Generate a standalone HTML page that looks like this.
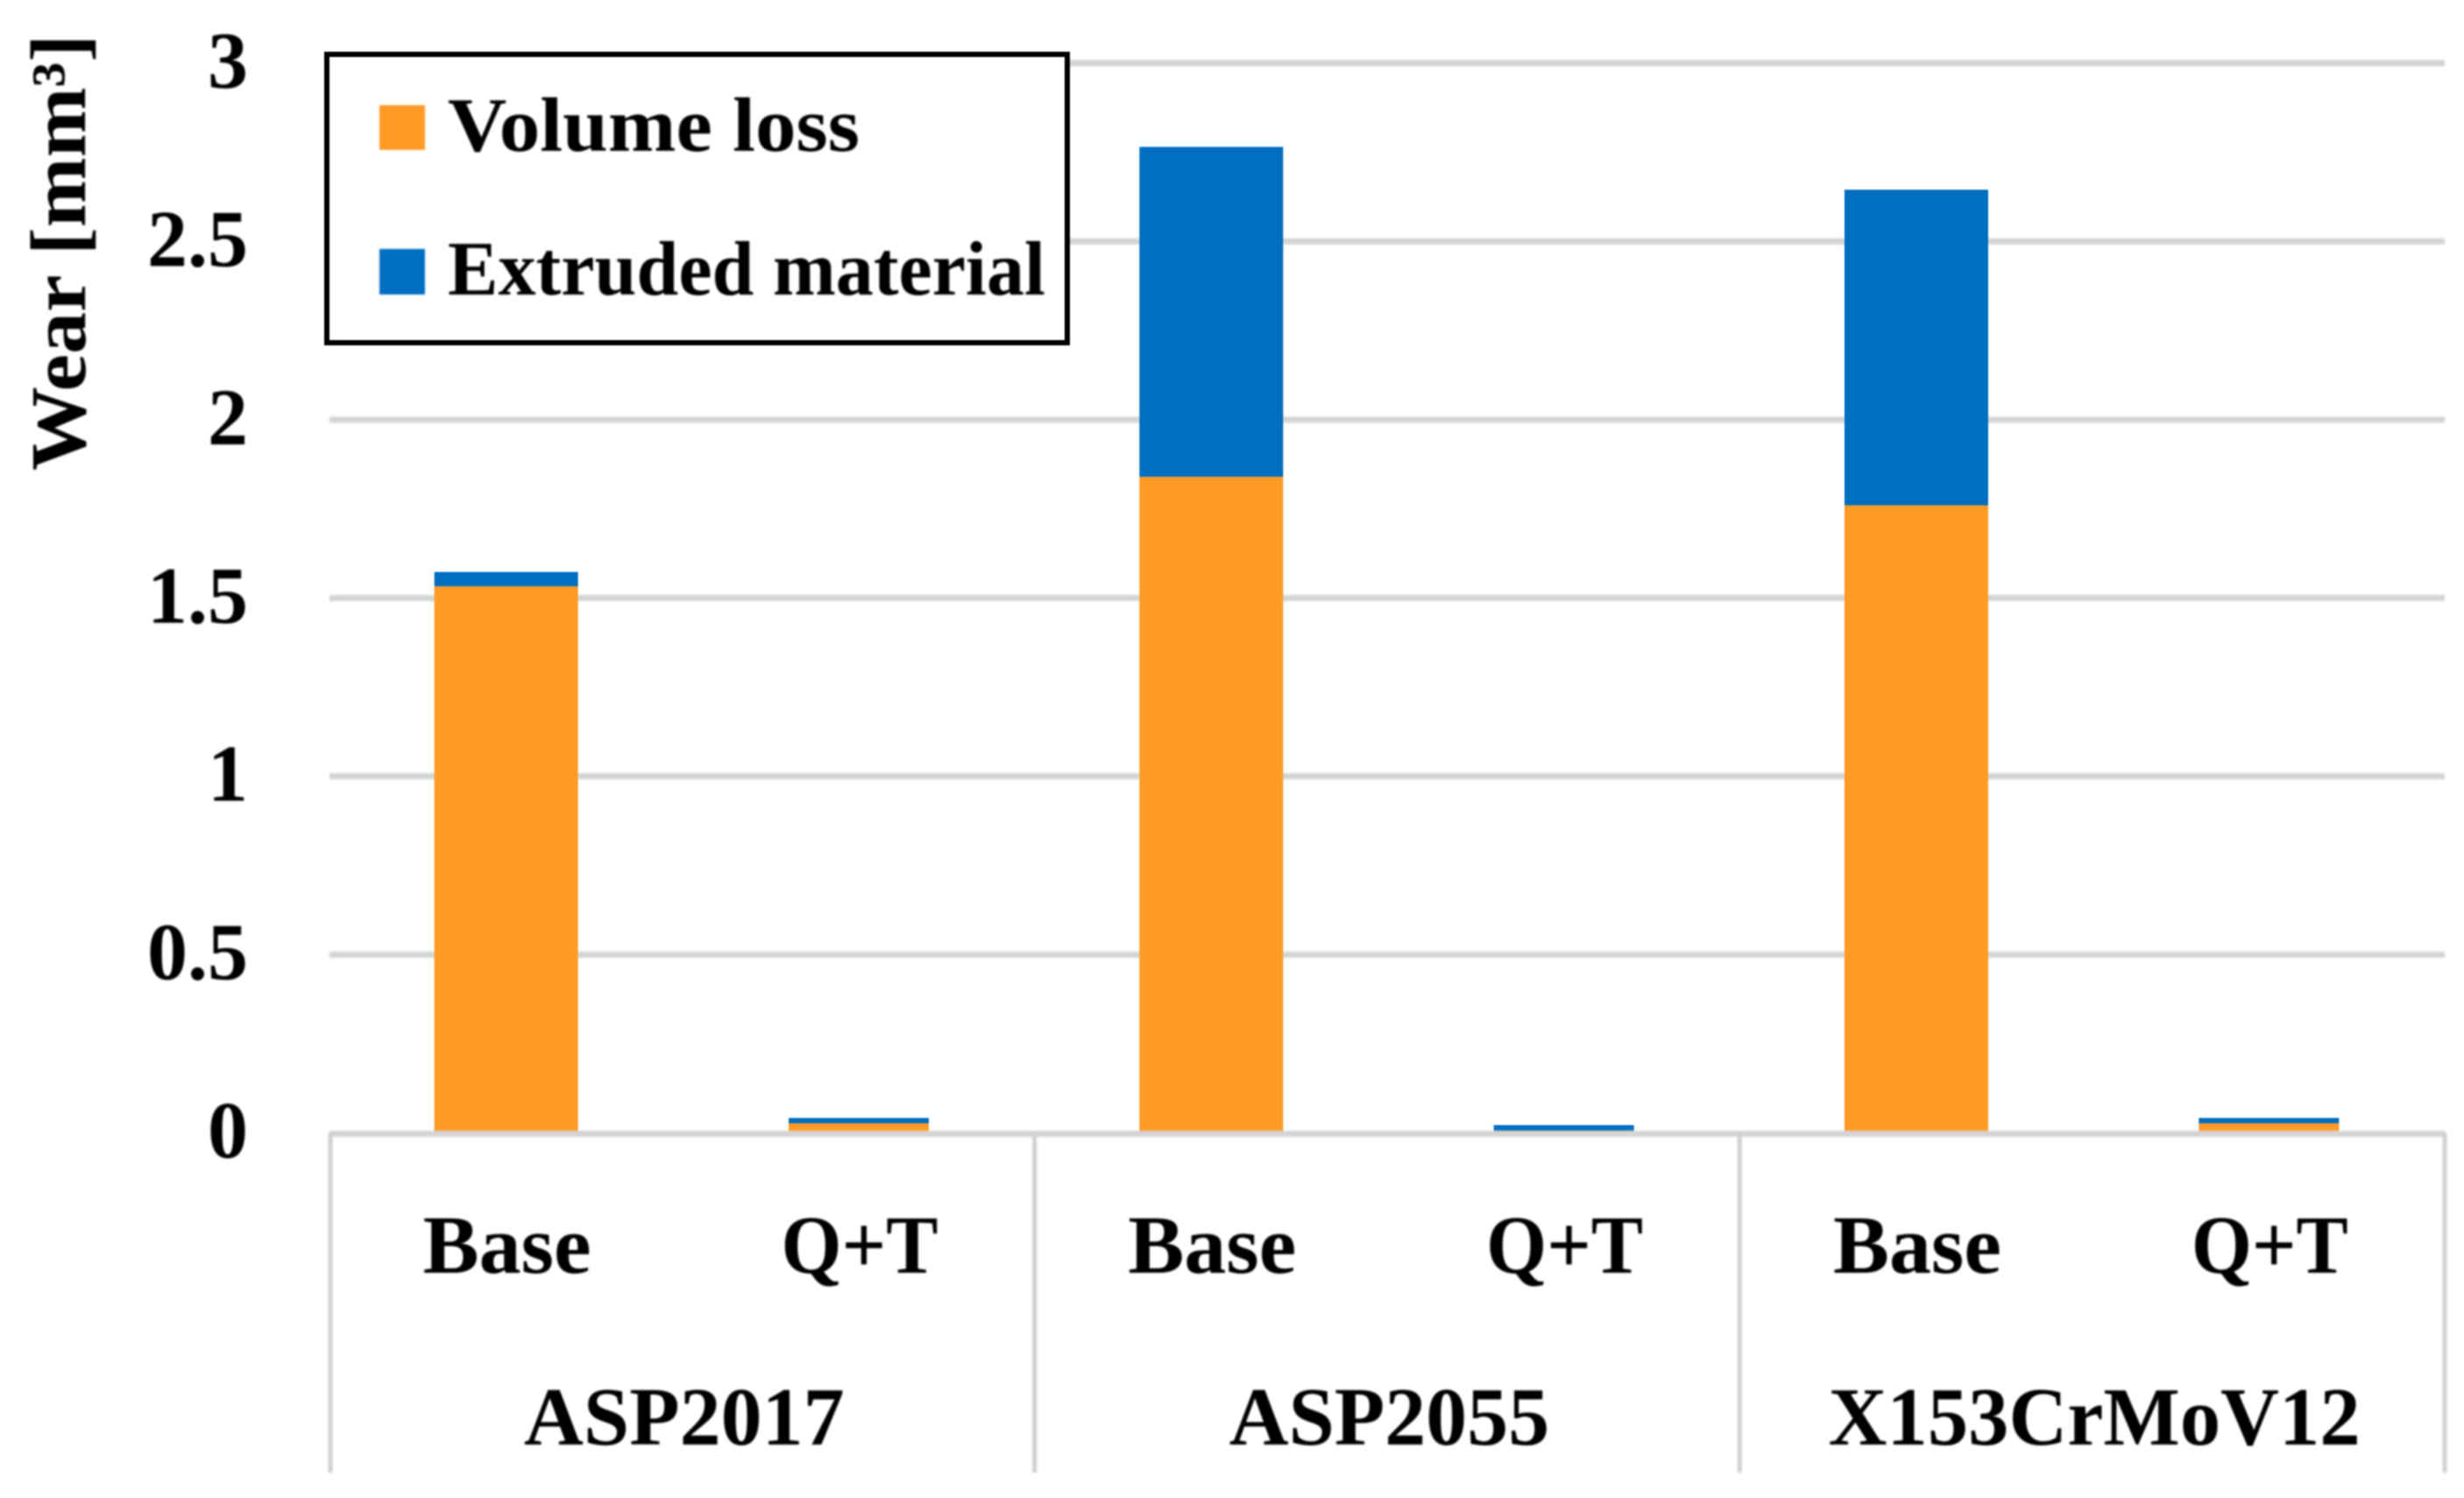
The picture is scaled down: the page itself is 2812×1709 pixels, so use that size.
<!DOCTYPE html>
<html lang="en">
<head>
<meta charset="utf-8">
<title>Wear chart</title>
<style>
html,body{margin:0;padding:0;background:#fff;width:2812px;height:1709px;overflow:hidden}
svg{display:block}
text{font-family:"Liberation Serif",serif;font-weight:bold;fill:#000}
.soft{filter:blur(1.1px)}
.softer{filter:blur(1.4px)}
.crisp{filter:blur(0.8px)}
</style>
</head>
<body>
<svg id="chart" xmlns="http://www.w3.org/2000/svg" width="2812" height="1709" viewBox="0 0 2812 1709">
  <rect x="0" y="0" width="2812" height="1709" fill="#ffffff"/>
  <g id="grid" class="softer"></g>
  <g id="bars" class="crisp"></g>
  <g id="axis" class="softer"></g>
  <g id="ylabels" class="soft"></g>
  <g id="xlabels" class="soft"></g>
  <text class="soft" transform="translate(97,537) rotate(-90)" font-size="90" textLength="498" lengthAdjust="spacingAndGlyphs">Wear [mm³]</text>
  <g>
    <rect x="373" y="62" width="845" height="329" fill="#ffffff" stroke="#000000" stroke-width="6" class="crisp"/>
    <g class="soft">
      <rect x="433" y="120" width="52" height="51" fill="#FF9A24"/>
      <text x="511" y="172" font-size="88" textLength="470" lengthAdjust="spacingAndGlyphs">Volume loss</text>
      <rect x="433" y="284" width="52" height="52" fill="#006FC2"/>
      <text x="511" y="336" font-size="88" textLength="682" lengthAdjust="spacingAndGlyphs">Extruded material</text>
    </g>
  </g>
</svg>
<script>
const groups = ['ASP2017', 'ASP2055', 'X153CrMoV12'];
const conditions = ['Base', 'Q+T', 'Base', 'Q+T', 'Base', 'Q+T'];
const volumeLoss = [1.533, 0.027, 1.84, 0.004, 1.76, 0.027];
const extrudedMaterial = [0.04, 0.015, 0.925, 0.018, 0.885, 0.015];
const yTicks = [0, 0.5, 1, 1.5, 2, 2.5, 3];

const NS = 'http://www.w3.org/2000/svg';
const plotLeft = 376, plotRight = 2790, yZero = 1292.5, yThree = 72;
const yScale = v => yZero - (v / 3) * (yZero - yThree);
const bandWidth = (plotRight - plotLeft) / conditions.length;
const xCenter = i => plotLeft + bandWidth * (i + 0.5) + 0.5;
const barWidth = c => c === 'Base' ? 164 : 160;
const labelWidth = c => c === 'Base' ? 192 : 179;
const axisBottom = 1680;

function add(parent, tag, attrs) {
  const el = document.createElementNS(NS, tag);
  for (const k in attrs) el.setAttribute(k, attrs[k]);
  parent.appendChild(el);
  return el;
}

const gGrid = document.getElementById('grid');
const gBars = document.getElementById('bars');
const gAxis = document.getElementById('axis');
const gY = document.getElementById('ylabels');
const gX = document.getElementById('xlabels');

yTicks.forEach(t => {
  if (t !== 0) {
    const line = add(gGrid, 'line', {x1: plotLeft, x2: plotRight, y1: yScale(t), y2: yScale(t), stroke: '#d4d4d4', 'stroke-width': 7});
    
    
  }
  const label = add(gY, 'text', {x: 283, y: yScale(t) + 28, 'font-size': 92, 'text-anchor': 'end'});
  label.textContent = String(t);
  
  
});

conditions.forEach((c, i) => {
  const w = barWidth(c);
  const x = xCenter(i) - w / 2;
  const y1 = yScale(volumeLoss[i]);
  const y2 = yScale(volumeLoss[i] + extrudedMaterial[i]);
  const orange = add(gBars, 'rect', {x: x, y: y1, width: w, height: yZero - y1, fill: '#FF9A24'});
  
  
  const blue = add(gBars, 'rect', {x: x, y: y2, width: w, height: y1 - y2, fill: '#006FC2'});
  
  
  const label = add(gX, 'text', {x: xCenter(i) + 1, y: 1452, 'font-size': 94, 'text-anchor': 'middle', textLength: labelWidth(c), lengthAdjust: 'spacingAndGlyphs'});
  label.textContent = c;
  
  
});

const baseline = add(gAxis, 'line', {x1: plotLeft, x2: plotRight, y1: yZero + 1, y2: yZero + 1, stroke: '#d4d4d4', 'stroke-width': 7});



const groupSize = conditions.length / groups.length;
for (let g = 0; g <= groups.length; g++) {
  const x = plotLeft + bandWidth * groupSize * g + (g === 0 ? 1 : 0);
  const sep = add(gAxis, 'line', {x1: x, x2: x, y1: yZero, y2: axisBottom, stroke: '#d0d0d0', 'stroke-width': 5});
  
  
}

groups.forEach((name, g) => {
  const cx = plotLeft + bandWidth * groupSize * (g + 0.5) + 2.5;
  const label = add(gX, 'text', {x: cx, y: 1648, 'font-size': 94, 'text-anchor': 'middle'});
  label.textContent = name;
  
  
  if (label.getComputedTextLength() > 610) {
    label.setAttribute('textLength', 607);
    label.setAttribute('lengthAdjust', 'spacingAndGlyphs');
  }
});
</script>
</body>
</html>
